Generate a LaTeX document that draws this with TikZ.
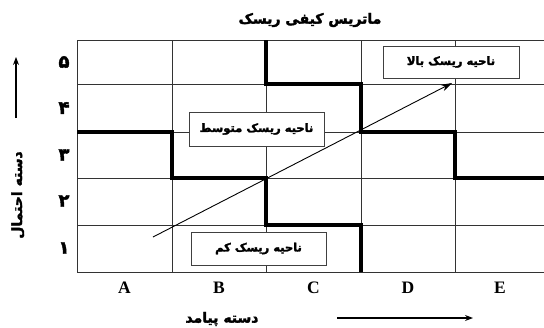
\documentclass[tikz,border=0pt]{standalone}
\usepackage{fontspec}
\setmainfont{Liberation Serif}
\newfontfamily\fa[Script=Arabic,FakeBold=2.2]{DejaVu Sans}
\TeXXeTstate=1
\usetikzlibrary{arrows.meta}
\tikzset{
  thin grid/.style={draw=black!80, line width=0.9pt},
  zone/.style={line width=4pt, line cap=square, line join=miter},
  zonebox/.style={draw=black!75, line width=0.9pt, fill=white, minimum width=135pt, minimum height=33pt, inner sep=0pt, font=\fa\bfseries\fontsize{11.5}{13}\selectfont},
  collab/.style={font=\bfseries\fontsize{17.5}{18}\selectfont, inner sep=0pt},
  rowlab/.style={font=\fa\bfseries\fontsize{18}{19}\selectfont, inner sep=0pt},
  axislab/.style={font=\fa\bfseries\fontsize{14}{16}\selectfont, inner sep=0pt},
  axarrow/.style={line width=1.1pt, -{Stealth[length=8pt,width=6pt]}},
}
\begin{document}
\begin{tikzpicture}[x=1pt,y=-1pt]
\useasboundingbox (0,0) rectangle (544,327);
% grid
\foreach \yy in {40,84,132,178,225,272} \draw[thin grid] (77,\yy) -- (544,\yy);
\foreach \xx in {77,172,266,361,455} \draw[thin grid] (\xx,40) -- (\xx,272);
% zone boundaries
\draw[zone] (77,132) -- (172,132) -- (172,178) -- (266,178) -- (266,225) -- (361,225) -- (361,272);
\draw[zone] (266,40) -- (266,84) -- (361,84) -- (361,132) -- (455,132) -- (455,178) -- (544,178);
% diagonal arrow
\coordinate (ds) at (153,237);
\coordinate (de) at (452,83);
\draw[line width=0.9pt, -{Stealth[length=11pt,width=7pt]}] (ds) -- (de);
% zone boxes
\node[zonebox, minimum width=136pt, minimum height=32pt] (high) at (451,62) {\beginR ناحیه ریسک بالا\endR};
\node[zonebox, minimum height=34pt] (mid) at (256.5,129) {\beginR ناحیه ریسک متوسط\endR};
\node[zonebox] (low) at (258.5,248.5) {\beginR ناحیه ریسک کم\endR};
% title
\node[font=\fa\bfseries\fontsize{14}{16}\selectfont, inner sep=0pt] (title) at (310,20) {\beginR ماتریس کیفی ریسک\endR};
% column labels
\node[collab] (cA) at (124.5,288) {A};
\node[collab] (cB) at (219,288) {B};
\node[collab] (cC) at (313.5,288) {C};
\node[collab] (cD) at (408,288) {D};
\node[collab] (cE) at (500,288) {E};
% row labels
\node[rowlab] (r5) at (64,62) {۵};
\node[rowlab] (r4) at (64,108) {۴};
\node[rowlab] (r3) at (64,155) {۳};
\node[rowlab] (r2) at (64,201) {۲};
\node[rowlab] (r1) at (64,248) {۱};
% axis labels
\node[axislab, rotate=90] (ylab) at (18,195) {\beginR دسته احتمال\endR};
\node[axislab] (xlab) at (222,319) {\beginR دسته پیامد\endR};
\coordinate (ya) at (16,118);
\coordinate (yb) at (16,57);
\draw[axarrow] (ya) -- (yb);
\coordinate (xa) at (337,318);
\coordinate (xb) at (473,318);
\draw[axarrow] (xa) -- (xb);
\end{tikzpicture}
\end{document}
